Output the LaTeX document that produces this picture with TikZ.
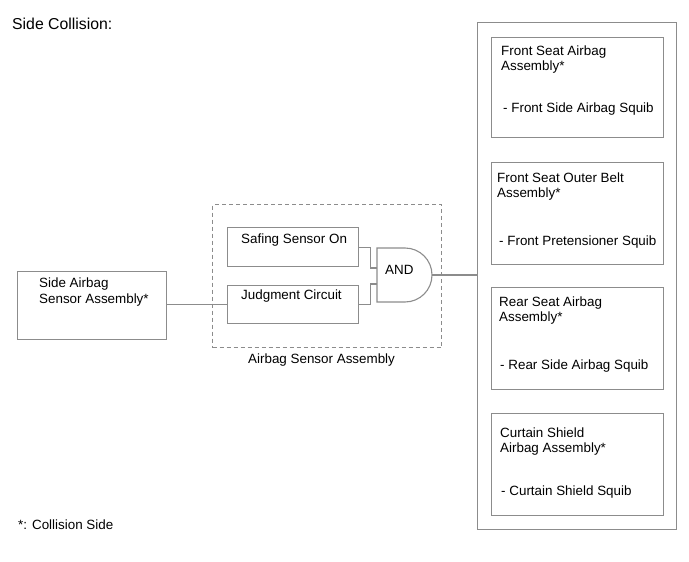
\documentclass[tikz,border=0pt]{standalone}
\usepackage{fontspec}
\setmainfont{Liberation Sans}
\begin{document}
\begin{tikzpicture}[x=1pt,y=-1pt,
  ln/.style={draw={rgb,255:red,140;green,140;blue,140},line width=1.1pt},
  boxr/.style={ln,rectangle,inner sep=0pt,anchor=north west},
  txt/.style={anchor=base west,inner sep=0pt,font=\fontsize{13.4}{15}\selectfont},
  conn/.style={ln}]
\useasboundingbox (0,0) rectangle (689,562);
% title and footnote
\node[anchor=base west,inner sep=0pt,font=\fontsize{15.8}{18}\selectfont] (title) at (12,30) {Side Collision:};
\node[txt] (foot) at (18,529) {*: Collision Side};
% side airbag sensor
\node[boxr,minimum width=149pt,minimum height=68pt] (side) at (17,271) {};
\node[txt] (side1) at (39,287) {Side Airbag};
\node[txt] (side2) at (39,303) {Sensor Assembly*};
% airbag sensor assembly (dashed)
\node[boxr,dash pattern=on 4pt off 3pt,minimum width=229pt,minimum height=143pt] (asm) at (212,204) {};
\node[txt] (asmlbl) at (248,363) {Airbag Sensor Assembly};
\node[boxr,minimum width=131pt,minimum height=39pt] (safe) at (227,227) {};
\node[txt] (safet) at (241,243) {Safing Sensor On};
\node[boxr,minimum width=131pt,minimum height=38pt] (judg) at (227,285) {};
\node[txt] (judgt) at (241,299) {Judgment Circuit};
% AND gate
\draw[ln] (377,248) -- (405,248) arc[start angle=-90,end angle=90,radius=27] -- (377,302) -- cycle;
\node[txt] (andt) at (385,274) {AND};
\coordinate (gin1) at (377,268);
\coordinate (gin2) at (377,284);
\coordinate (gout) at (432,275);
% right outer box
\node[boxr,minimum width=199pt,minimum height=507pt] (outer) at (477,22) {};
\node[boxr,minimum width=172pt,minimum height=100pt] (b1) at (491,37) {};
\node[txt] (b1a) at (501,56) {Front Seat Airbag};
\node[txt] (b1b) at (501,70) {Assembly*};
\node[txt] (b1c) at (503,112) {- Front Side Airbag Squib};
\node[boxr,minimum width=172pt,minimum height=102pt] (b2) at (491,162) {};
\node[txt] (b2a) at (497,182) {Front Seat Outer Belt};
\node[txt] (b2b) at (497,197) {Assembly*};
\node[txt] (b2c) at (499,245) {- Front Pretensioner Squib};
\node[boxr,minimum width=172pt,minimum height=102pt] (b3) at (491,287) {};
\node[txt] (b3a) at (499,306) {Rear Seat Airbag};
\node[txt] (b3b) at (499,321) {Assembly*};
\node[txt] (b3c) at (500,369) {- Rear Side Airbag Squib};
\node[boxr,minimum width=172pt,minimum height=102pt] (b4) at (491,413) {};
\node[txt] (b4a) at (500,437) {Curtain Shield};
\node[txt] (b4b) at (500,452) {Airbag Assembly*};
\node[txt] (b4c) at (501,495) {- Curtain Shield Squib};
% connectors
\draw[conn] (judg.west -| side.east) -- (judg.west);
\draw[conn] (safe.east) -- ++(11,0) |- (gin1);
\draw[conn] (judg.east) -- ++(11,0) |- (gin2);
\draw[conn] (gout) -- (gout -| outer.west);
\end{tikzpicture}
\end{document}
